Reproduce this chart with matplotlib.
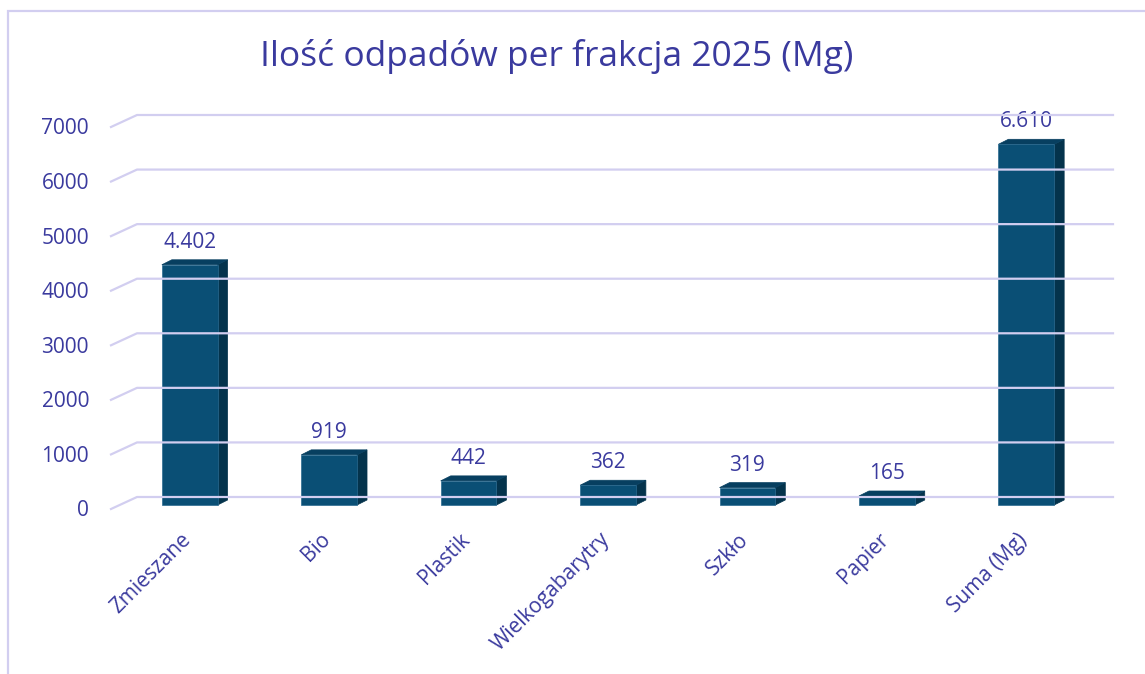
import matplotlib
matplotlib.use('Agg')
import matplotlib.pyplot as plt
from matplotlib.patches import Polygon, Rectangle
from matplotlib.transforms import ScaledTranslation

# data
categories = ['Zmieszane', 'Bio', 'Plastik', 'Wielkogabarytry', 'Szkło', 'Papier', 'Suma (Mg)']
values = [4402, 919, 442, 362, 319, 165, 6610]
y_ticks = [0, 1000, 2000, 3000, 4000, 5000, 6000, 7000]
title = 'Ilość odpadów per frakcja 2025 (Mg)'

TEXT = '#3a3a9e'
GRID = '#d2cef0'
FRONT = '#0a4f75'
SIDE = '#04334c'
TOP = '#073f60'

plt.rcParams['font.family'] = ['Open Sans', 'DejaVu Sans']

W, H, DPI = 1145, 674, 100
fig = plt.figure(figsize=(W / DPI, H / DPI), dpi=DPI)

# chart frame (left and top edge visible)
fig.patches.append(Rectangle((8 / W, -0.1), 1.2, (H - 11) / H + 0.1, transform=fig.transFigure,
                             fill=False, edgecolor=GRID, linewidth=1.6))

# front plane of the floor: x 111..1087 px, y 0 at 509 px, 7000 at 127 px
ax = fig.add_axes([111 / W, (H - 509) / H, (1087 - 111) / W, (509 - 127) / H])
ax.set_xlim(-0.5, 6.5)
ax.set_ylim(0, 7000)
ax.axis('off')


def px(dx, dy):
    # shift in screen pixels
    return ax.transData + ScaledTranslation(dx / DPI, dy / DPI, fig.dpi_scale_trans)


# wall depth (pixels) and bar placement within it
DEPTH_X, DEPTH_Y = 26, 12
BAR_X, BAR_Y = 9, 4
BAR_DX, BAR_DY = 10, 5

# gridlines: slanted floor part + back wall
for g in y_ticks:
    x0, y0 = ax.transData.transform((-0.5, g))
    x1, _ = ax.transData.transform((6.5, g))
    line = plt.Line2D([x0, x0 + DEPTH_X, x1 + DEPTH_X], [y0, y0 + DEPTH_Y, y0 + DEPTH_Y],
                      transform=None, color=GRID, linewidth=1.6, zorder=1)
    fig.lines.append(line)
    ax.text(-0.5, g, f'{g}', transform=px(-22, -2), ha='right', va='center',
            fontsize=15, color=TEXT)

# bars with 3D faces
width = 0.4
ppx = ax.transData.transform((1, 0))[0] - ax.transData.transform((0, 0))[0]
ppy = ax.transData.transform((0, 1000))[1] - ax.transData.transform((0, 0))[1]
ddx = BAR_DX / ppx
ddy = BAR_DY / ppy * 1000
for i, v in enumerate(values):
    ax.bar(i, v, width=width, color=FRONT, transform=px(BAR_X, BAR_Y), zorder=3,
           edgecolor='#2a6a90', linewidth=0.5)
    xl, xr = i - width / 2, i + width / 2
    side = Polygon([(xr, 0), (xr + ddx, ddy), (xr + ddx, v + ddy), (xr, v)],
                   closed=True, facecolor=SIDE, edgecolor=SIDE, linewidth=0.5,
                   transform=px(BAR_X, BAR_Y), zorder=2)
    top = Polygon([(xl, v), (xr, v), (xr + ddx, v + ddy), (xl + ddx, v + ddy)],
                  closed=True, facecolor=TOP, edgecolor=TOP, linewidth=0.5,
                  transform=px(BAR_X, BAR_Y), zorder=2)
    ax.add_patch(side)
    ax.add_patch(top)
    ax.annotate(f'{v:,}'.replace(',', '.'), (i, v), xytext=(BAR_X, BAR_Y + 12),
                textcoords='offset pixels', ha='center', va='bottom',
                fontsize=15, color=TEXT, annotation_clip=False)
    ax.annotate(categories[i], (i, 0), xytext=(BAR_X - 9, -20),
                textcoords='offset pixels', ha='right', va='top', rotation=45,
                rotation_mode='anchor', fontsize=15, color=TEXT, annotation_clip=False)

fig.text(557 / W, (H - 57) / H, title, ha='center', va='center', fontsize=25.5, color=TEXT)

fig.savefig('out.png', dpi=DPI)
